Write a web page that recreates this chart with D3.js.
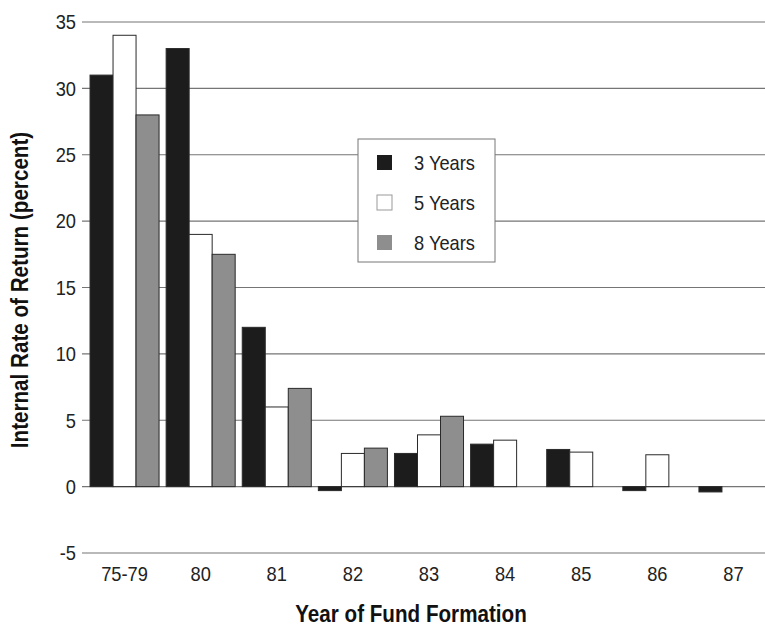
<!DOCTYPE html>
<html>

<head>
    <meta charset="utf-8">
    <style>
        body {
            margin: 0;
            background: white;
        }

        svg {
            font-family: 'Liberation Sans Narrow', 'Liberation Sans', Arial, sans-serif;
        }

        .tick-label {
            font-size: 21px;
            fill: #222;
        }

        .axis-title {
            font-size: 24px;
            font-weight: bold;
            fill: #111;
        }
    </style>
</head>

<body>
    <svg width="765" height="628"></svg>
</body>

<script src="https://d3js.org/d3.v7.min.js"></script>

<script>
    // data
    let years = ["75-79", "80", "81", "82", "83", "84", "85", "86", "87"];
    let seriesNames = ["3 Years", "5 Years", "8 Years"];
    let threeYears = [31, 33, 12, -0.3, 2.5, 3.2, 2.8, -0.3, -0.4];
    let fiveYears = [34, 19, 6, 2.5, 3.9, 3.5, 2.6, 2.4, null];
    let eightYears = [28, 17.5, 7.4, 2.9, 5.3, null, null, null, null];
    let yTicks = [-5, 0, 5, 10, 15, 20, 25, 30, 35];

    let colors = ["#1c1c1c", "#ffffff", "#8e8e8e"];

    // no narrow font installed, so squeeze the text sideways instead
    let squeeze = 0.87;
    let titleSqueeze = 0.86;

    let svg = d3.select("svg")

    let x = d3.scaleBand()
        .domain(years)
        .range([85, 773])
        .paddingInner(0.093)
        .paddingOuter(0.066)

    let xInner = d3.scaleBand()
        .domain(seriesNames)
        .range([0, x.bandwidth()])

    let y = d3.scaleLinear()
        .domain([-5, 35])
        .range([553, 22])

    // gridlines (the zero line is one of them)
    svg.append("g")
        .selectAll("line")
        .data(yTicks)
        .join("line")
        .attr("x1", 82)
        .attr("x2", 765)
        .attr("y1", d => y(d))
        .attr("y2", d => y(d))
        .style("stroke", "#757575")
        .style("stroke-width", 1.1)

    // y tick labels
    svg.append("g")
        .selectAll("text")
        .data(yTicks)
        .join("text")
        .attr("class", "tick-label")
        .attr("transform", d => "translate(76," + y(d) + ") scale(" + squeeze + ",1)")
        .attr("dy", "0.35em")
        .attr("text-anchor", "end")
        .text(d => d)

    // x tick labels
    svg.append("g")
        .selectAll("text")
        .data(years)
        .join("text")
        .attr("class", "tick-label")
        .attr("transform", d => "translate(" + (x(d) + x.bandwidth() / 2) + ",581) scale(" + squeeze + ",1)")
        .attr("text-anchor", "middle")
        .text(d => d)

    // build rows for the bars
    let rows = [];
    [threeYears, fiveYears, eightYears].forEach(function (vals, s) {
        vals.forEach(function (v, i) {
            if (v == null) return;
            rows.push({ year: years[i], series: seriesNames[s], value: v, color: colors[s] })
        })
    })

    svg.append("g")
        .selectAll("rect")
        .data(rows)
        .join("rect")
        .attr("x", d => x(d.year) + xInner(d.series))
        .attr("width", xInner.bandwidth())
        .attr("y", d => y(Math.max(0, d.value)))
        .attr("height", d => Math.abs(y(d.value) - y(0)))
        .style("fill", d => d.color)
        .style("stroke", "#2a2a2a")
        .style("stroke-width", 1)

    // legend
    let legend = svg.append("g")

    legend.append("rect")
        .attr("x", 358)
        .attr("y", 139)
        .attr("width", 137)
        .attr("height", 123)
        .style("fill", "white")
        .style("stroke", "#777")
        .style("stroke-width", 1)

    let legendRows = legend.selectAll("g.item")
        .data(seriesNames)
        .join("g")
        .attr("class", "item")
        .attr("transform", (d, i) => "translate(0," + (163 + i * 40) + ")")

    legendRows.append("rect")
        .attr("x", 377)
        .attr("y", -8)
        .attr("width", 15)
        .attr("height", 15)
        .style("fill", (d, i) => colors[i])
        .style("stroke", (d, i) => i == 1 ? "#999" : "none")

    legendRows.append("text")
        .attr("class", "tick-label")
        .attr("transform", "translate(414,0) scale(" + squeeze + ",1)")
        .attr("dy", "0.35em")
        .text(d => d)

    // axis titles
    svg.append("text")
        .attr("class", "axis-title")
        .attr("transform", "translate(28,290) rotate(-90) scale(" + titleSqueeze + ",1)")
        .attr("text-anchor", "middle")
        .text("Internal Rate of Return (percent)")

    svg.append("text")
        .attr("class", "axis-title")
        .attr("transform", "translate(411,622) scale(" + titleSqueeze + ",1)")
        .attr("text-anchor", "middle")
        .text("Year of Fund Formation")
</script>

</html>
